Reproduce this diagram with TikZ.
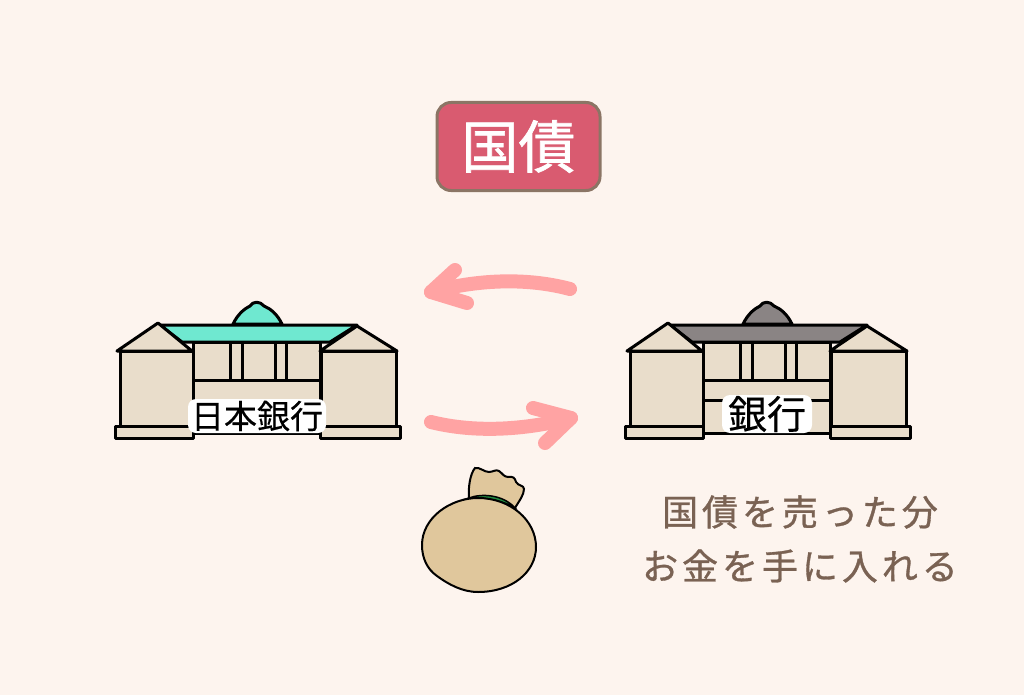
\documentclass[tikz,border=0pt]{standalone}
\usepackage{fontspec}
\setmainfont{Noto Sans CJK JP}
\newfontfamily\titlefont{Noto Sans CJK JP}[FakeBold=1.2]
\newfontfamily\labelfont{Noto Sans CJK JP}[FakeBold=0.3]
\newfontfamily\spacedfont{Noto Sans CJK JP}[LetterSpace=11,FakeBold=0.9]
\definecolor{paper}{HTML}{FDF4EE}
\definecolor{wall}{HTML}{E9DDCB}
\definecolor{tealroof}{HTML}{6FE8D0}
\definecolor{grayroof}{HTML}{8A8484}
\definecolor{titlered}{HTML}{D95B70}
\definecolor{titleedge}{HTML}{8B7565}
\definecolor{arrowpink}{HTML}{FFA3A3}
\definecolor{bagtan}{HTML}{E0C79C}
\definecolor{baggreen}{HTML}{1F8A3F}
\definecolor{notebrown}{HTML}{7A6253}
\begin{document}
\begin{tikzpicture}[x=1pt, y=-1pt,
line/.style={draw=black, line width=3pt, line join=round},
part/.style={line, fill=wall},
pink/.style={draw=arrowpink, line width=14pt, line cap=round, line join=round},
banklabel/.style={fill=white, rounded corners=8pt, inner sep=0pt, text=black},
note/.style={text=notebrown, font=\spacedfont\fontsize{36}{36}\selectfont},]

\useasboundingbox[fill=paper] (0,0) rectangle (1024,695);

\node (title) [fill=titlered, draw=titleedge, line width=3pt, rounded corners=14pt, minimum width=163pt, minimum height=88pt, text=white, font=\titlefont\fontsize{57}{57}\selectfont] at (518.5,146.5) {国債};

% left bank
\begin{scope}
\draw[part] (193,342) rectangle (320,433);
\draw[line] (193,380) -- (320,380);
\draw[line] (193,400) -- (320,400);
\draw[line] (230,342) -- (230,380);
\draw[line] (242,342) -- (242,380);
\draw[line] (275,342) -- (275,380);
\draw[line] (286,342) -- (286,380);
\draw[line, fill=tealroof] (233,324) .. controls (238,314) and (244,309) .. (250,306) .. controls (253,301) and (260,301) .. (264,306) .. controls (271,309) and (277,314) .. (282,324) -- cycle;
\draw[line, fill=tealroof] (160,325) -- (357,325) -- (330,342) -- (182,342) -- cycle;
\draw[part] (120,351) rectangle (193,426);
\draw[part] (117,351) -- (158,323) -- (192,351) -- cycle;
\draw[part] (115,426) rectangle (193,438);
\draw[part] (321,351) rectangle (396,426);
\draw[part] (320,351) -- (357,326) -- (397,351) -- cycle;
\draw[part] (320,426) rectangle (400,438);
\node (boj) [banklabel, minimum width=138pt, minimum height=34pt, font=\labelfont\fontsize{33}{33}\selectfont] at (257,416) {日本銀行};
\end{scope}

% right bank
\begin{scope}[xshift=510pt]
\draw[part] (193,342) rectangle (320,433);
\draw[line] (193,380) -- (320,380);
\draw[line] (193,400) -- (320,400);
\draw[line] (230,342) -- (230,380);
\draw[line] (242,342) -- (242,380);
\draw[line] (275,342) -- (275,380);
\draw[line] (286,342) -- (286,380);
\draw[line, fill=grayroof] (233,324) .. controls (238,314) and (244,309) .. (250,306) .. controls (253,301) and (260,301) .. (264,306) .. controls (271,309) and (277,314) .. (282,324) -- cycle;
\draw[line, fill=grayroof] (160,325) -- (357,325) -- (330,342) -- (182,342) -- cycle;
\draw[part] (120,351) rectangle (193,426);
\draw[part] (117,351) -- (158,323) -- (192,351) -- cycle;
\draw[part] (115,426) rectangle (193,438);
\draw[part] (321,351) rectangle (396,426);
\draw[part] (320,351) -- (357,326) -- (397,351) -- cycle;
\draw[part] (320,426) rectangle (400,438);
\node (bank) [banklabel, minimum width=90pt, minimum height=38pt, font=\labelfont\fontsize{39}{39}\selectfont] at (257,414) {銀行};
\end{scope}

% arrows
\coordinate (backstart) at (570,289);
\coordinate (backtip) at (431,292);
\coordinate (backup) at (455,270);
\coordinate (backdown) at (467,303);
\draw[pink] (backstart) .. controls (525,277) and (475,280) .. (backtip);
\draw[pink] (backup) -- (backtip) -- (backdown);

\coordinate (paystart) at (431,422);
\coordinate (paytip) at (571,418);
\coordinate (payup) at (533,408);
\coordinate (paydown) at (545,443);
\draw[pink] (paystart) .. controls (475,433) and (525,430) .. (paytip);
\draw[pink] (payup) -- (paytip) -- (paydown);

% money bag
\draw[draw=black, line width=2pt, fill=bagtan] (469,499) .. controls (468,488) and (470,474) .. (475,468) .. controls (480,467) and (484,472) .. (489,472) .. controls (493,472) and (496,469) .. (499,471) .. controls (502,473) and (504,477) .. (508,477) .. controls (513,476) and (515,478) .. (516,482) .. controls (518,486) and (524,485) .. (524,489) .. controls (524,495) and (519,501) .. (515,508) -- cycle;
\draw[draw=black, line width=1.5pt, fill=baggreen] (469,498) .. controls (482,493) and (503,495) .. (514,507) .. controls (500,500) and (482,497) .. (469,498) -- cycle;
\draw[draw=black, line width=2pt, fill=bagtan] (422,545) .. controls (422,518) and (450,498) .. (478,498) .. controls (510,498) and (536,520) .. (536,547) .. controls (536,572) and (512,592) .. (478,592) .. controls (462,592) and (448,584) .. (437,576) .. controls (427,569) and (422,558) .. (422,545) -- cycle;

\node (noteone) [note] at (800,512) {国債を売った分};
\node (notetwo) [note] at (800,566) {お金を手に入れる};

\end{tikzpicture}
\end{document}
